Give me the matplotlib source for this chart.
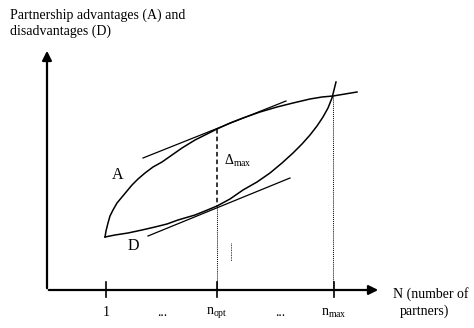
import matplotlib.pyplot as plt

plt.rcParams['font.family'] = ['Liberation Serif', 'DejaVu Serif']
plt.rcParams['mathtext.fontset'] = 'custom'
plt.rcParams['mathtext.rm'] = 'Liberation Serif'
plt.rcParams['mathtext.it'] = 'Liberation Serif:italic'

# curve A (advantages) in pixel units
a_x = [105, 106, 108, 110, 113, 117, 122, 127, 132, 138, 145, 153, 162, 172, 182, 195, 205, 217,
       230, 243, 260, 277, 293, 310, 322, 333, 345, 357]
a_y = [237, 231, 223, 216, 210, 203, 197, 191, 185, 179, 173, 167, 162, 155, 148, 140, 135, 129,
       123, 118, 112, 107, 103, 99, 97, 96, 94, 92]
# curve D (disadvantages)
d_x = [105, 115, 128, 142, 155, 167, 178, 195, 205, 217, 230, 243, 257, 270, 282, 293, 302, 310,
       317, 323, 328, 332, 334, 336]
d_y = [237, 235, 233, 230, 227, 224, 220, 215, 211, 206, 199, 190, 182, 173, 163, 153, 144, 135,
       126, 117, 108, 98, 90, 82]
# tangents at n_opt
tan_a_x = [143, 286]
tan_a_y = [158, 101]
tan_d_x = [148, 290]
tan_d_y = [236, 178]

x_pos = [106, 162, 217, 280, 334]
x_labels = ['1', '...', r'n$_{\rm opt}$', '...', r'n$_{\rm max}$']
n_opt = 217
n_max = 333

fig = plt.figure(figsize=(4.74, 3.28), dpi=100)
ax = fig.add_axes([0, 0, 1, 1])
ax.set_xlim(0, 474)
ax.set_ylim(328, 0)
ax.axis('off')

# axes with arrows
ax.annotate('', xy=(47, 48), xytext=(47, 291),
            arrowprops=dict(arrowstyle='-|>', lw=1.6, color='black', mutation_scale=14))
ax.annotate('', xy=(381, 290), xytext=(46, 290),
            arrowprops=dict(arrowstyle='-|>', lw=1.6, color='black', mutation_scale=14))

for xp in [106, 217, 334]:
    ax.plot([xp, xp], [282, 297], color='black', lw=1.2)
for xp, lab in zip(x_pos, x_labels):
    ax.text(xp, 313, lab, ha='center', va='center', fontsize=10)

ax.plot(a_x, a_y, color='black', lw=1.1)
ax.plot(d_x, d_y, color='black', lw=1.1)
ax.plot(tan_a_x, tan_a_y, color='black', lw=0.9)
ax.plot(tan_d_x, tan_d_y, color='black', lw=0.9)

# delta_max and projection lines
ax.plot([n_opt, n_opt], [129, 206], color='black', lw=1.1, ls=(0, (3, 2)))
ax.plot([n_opt, n_opt], [206, 290], color='black', lw=0.7, ls=(0, (1, 1)))
ax.plot([n_max, n_max], [96, 290], color='black', lw=0.7, ls=(0, (1, 1)))
ax.plot([231, 231], [243, 261], color='black', lw=0.6, ls=(0, (1, 1)))

ax.text(224, 161, r'$\Delta_{\rm max}$', ha='left', va='center', fontsize=10)
ax.text(118, 175, 'A', ha='center', va='center', fontsize=11.5)
ax.text(133, 246, 'D', ha='center', va='center', fontsize=11.5)

ax.text(10, 15, 'Partnership advantages (A) and', ha='left', va='center', fontsize=10)
ax.text(10, 31, 'disadvantages (D)', ha='left', va='center', fontsize=10)
ax.text(393, 294, 'N (number of', ha='left', va='center', fontsize=10)
ax.text(400, 311, 'partners)', ha='left', va='center', fontsize=10)

fig.savefig('out.png', dpi=100)
